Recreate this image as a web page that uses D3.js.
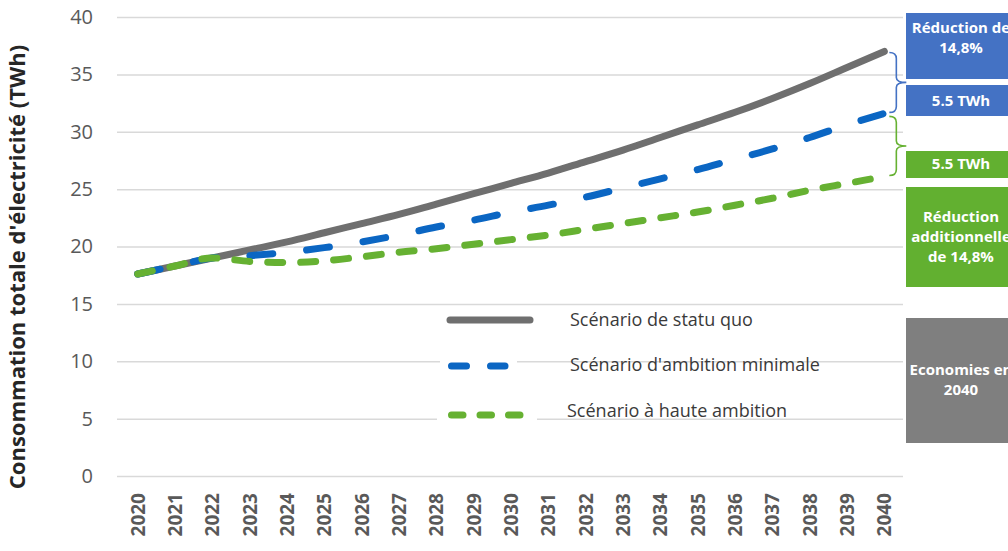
<!DOCTYPE html>
<html>
<head>
<meta charset="utf-8">
<script src="https://cdn.jsdelivr.net/npm/d3@7/dist/d3.min.js"></script>
<style>
  html, body { margin: 0; padding: 0; background: #ffffff; }
  svg { display: block; }
  text { font-family: "Open Sans", "Noto Sans", sans-serif; }
</style>
</head>
<body>
<svg id="chart" width="1008" height="551"></svg>
<script>
// Years on the horizontal axis
const years = ["2020","2021","2022","2023","2024","2025","2026","2027","2028","2029","2030",
               "2031","2032","2033","2034","2035","2036","2037","2038","2039","2040"];

// Total electricity consumption per scenario (TWh)
const statuQuo      = [17.6,18.3,19.0,19.7,20.4,21.2,22.0,22.8,23.7,24.6,25.5,26.4,27.4,28.4,29.5,30.6,31.7,32.9,34.2,35.6,37.0];
const ambitionMin   = [17.6,18.3,19.0,19.2,19.5,19.9,20.4,21.0,21.7,22.3,23.0,23.6,24.3,25.1,25.9,26.7,27.6,28.5,29.5,30.6,31.6];
const hauteAmbition = [17.6,18.3,19.0,18.7,18.6,18.75,19.1,19.5,19.8,20.2,20.6,21.0,21.5,22.0,22.5,23.0,23.6,24.2,24.9,25.5,26.1];

const yTicks = [0,5,10,15,20,25,30,35,40];

const seriesNames = ["Scénario de statu quo", "Scénario d'ambition minimale", "Scénario à haute ambition"];

// Side annotation boxes
const boxLabels = [
  ["Réduction de", "14,8%"],
  ["5.5 TWh"],
  ["5.5 TWh"],
  ["Réduction", "additionnelle", "de 14,8%"],
  ["Economies en", "2040"]
];

const svg = d3.select("#chart");

const x = d3.scaleBand().domain(years).range([119, 903]).padding(0);
const xc = d => x(d) + x.bandwidth() / 2;
const y = d3.scaleLinear().domain([0, 40]).range([476, 17]);

// Horizontal gridlines
const yAxis = d3.axisLeft(y).tickValues(yTicks).tickSize(-(903 - 117)).tickPadding(24);
const gy = svg.append("g").attr("transform", "translate(117,0)").call(yAxis);
gy.select(".domain").remove();
gy.selectAll(".tick line").attr("stroke", "#d9d9d9").attr("stroke-width", 1.5);
gy.selectAll(".tick text")
  .attr("fill", "#595959")
  .style("font-size", "20px")
  .style("font-family", "'Open Sans', sans-serif");

// Year labels, vertical
const xAxis = d3.axisBottom(x).tickSize(0).tickPadding(0);
const gx = svg.append("g").attr("transform", "translate(0,476)").call(xAxis);
gx.select(".domain").remove();
gx.selectAll(".tick text")
  .attr("transform", "translate(0,17) rotate(-90)")
  .attr("text-anchor", "end")
  .attr("dy", "0.36em")
  .attr("x", 0).attr("y", 0)
  .attr("fill", "#595959")
  .style("font-size", "19px")
  .style("font-weight", "bold")
  .style("font-family", "'Open Sans', sans-serif");

// Vertical axis title
svg.append("text")
  .attr("transform", "translate(25,267) rotate(-90)")
  .attr("text-anchor", "middle")
  .attr("fill", "#262626")
  .style("font-size", "22px")
  .style("font-weight", "bold")
  .text("Consommation totale d'électricité (TWh)");

// Legend (drawn before lines so curves stay on top where they meet)
const legendRows = [
  { y: 320, ty: 320, color: "#6f6f6f", dash: null, x1: 450, x2: 530, mask: null },
  { y: 366, ty: 365, color: "#0b66c3", dash: "15,24", x1: 451.5, x2: 505, mask: [440, 517] },
  { y: 415, ty: 411, color: "#66b132", dash: "11.5,17", x1: 451.5, x2: 520, mask: [437, 537] }
];
const lg = svg.append("g");
legendRows.forEach((r, i) => {
  if (r.mask) {
    lg.append("rect").attr("x", r.mask[0]).attr("y", r.y - 8)
      .attr("width", r.mask[1] - r.mask[0]).attr("height", 16).attr("fill", "#ffffff");
  }
  lg.append("line")
    .attr("x1", r.x1).attr("x2", r.x2).attr("y1", r.y).attr("y2", r.y)
    .attr("stroke", r.color).attr("stroke-width", 7).attr("stroke-linecap", "round")
    .attr("stroke-dasharray", r.dash);
  lg.append("text")
    .attr("x", i === 2 ? 567 : 570).attr("y", r.ty).attr("dy", "0.35em")
    .attr("fill", "#3a3a3a")
    .style("font-size", "18px")
    .text(seriesNames[i]);
});

// Scenario curves
const line = d3.line()
  .x((d, i) => xc(years[i]))
  .y(d => y(d))
  .curve(d3.curveMonotoneX);

const series = [
  { values: statuQuo,      color: "#6f6f6f", dash: null },
  { values: ambitionMin,   color: "#0b66c3", dash: "23,34" },
  { values: hauteAmbition, color: "#66b132", dash: "15,18" }
];
series.forEach(s => {
  svg.append("path")
    .datum(s.values)
    .attr("d", line)
    .attr("fill", "none")
    .attr("stroke", s.color)
    .attr("stroke-width", 7)
    .attr("stroke-linecap", "round")
    .attr("stroke-dasharray", s.dash);
});

// Curly braces spanning the 2040 gaps between scenarios
function brace(yTop, yBot, x0, xMid, xTip) {
  const m = (yTop + yBot) / 2;
  return `M${x0},${yTop} Q${xMid},${yTop} ${xMid},${yTop + 6}` +
         ` L${xMid},${m - 5} Q${xMid},${m} ${xTip},${m}` +
         ` Q${xMid},${m} ${xMid},${m + 5}` +
         ` L${xMid},${yBot - 6} Q${xMid},${yBot} ${x0},${yBot}`;
}
const last = years.length - 1;
const xEnd = xc(years[last]) + 5;
svg.append("path")
  .attr("d", brace(y(statuQuo[last]) + 1, y(ambitionMin[last]) - 1, xEnd, xEnd + 7, xEnd + 17))
  .attr("fill", "none").attr("stroke", "#4472c4").attr("stroke-width", 1.6);
svg.append("path")
  .attr("d", brace(y(ambitionMin[last]) + 3, y(hauteAmbition[last]) - 1, xEnd, xEnd + 7, xEnd + 17))
  .attr("fill", "none").attr("stroke", "#66b132").attr("stroke-width", 1.6);

// Annotation boxes on the right
const boxes = [
  { y0: 13,  y1: 79,  fill: "#4472c4", lines: boxLabels[0], cy: 38 },
  { y0: 85,  y1: 116, fill: "#4472c4", lines: boxLabels[1], cy: 101 },
  { y0: 151, y1: 178, fill: "#62b030", lines: boxLabels[2], cy: 164 },
  { y0: 187, y1: 287, fill: "#62b030", lines: boxLabels[3], cy: 237 },
  { y0: 318, y1: 443, fill: "#7f7f7f", lines: boxLabels[4], cy: 380 }
];
const bx = 906, bw = 110, cx = 961;
boxes.forEach(b => {
  svg.append("rect").attr("x", bx).attr("y", b.y0).attr("width", bw).attr("height", b.y1 - b.y0)
    .attr("fill", b.fill);
  const n = b.lines.length, lh = 20;
  b.lines.forEach((t, i) => {
    svg.append("text")
      .attr("x", cx).attr("y", b.cy + (i - (n - 1) / 2) * lh)
      .attr("dy", "0.35em")
      .attr("text-anchor", "middle")
      .attr("fill", "#ffffff")
      .style("font-size", "15px")
      .style("font-weight", "bold")
      .text(t);
  });
});
</script>
</body>
</html>
